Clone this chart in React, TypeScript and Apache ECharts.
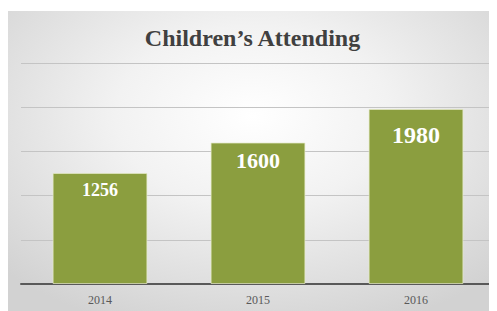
import React, { useEffect, useRef } from "react";
import * as echarts from "echarts";

const title = "Children’s Attending";
const categories = ["2014", "2015", "2016"];
const values = [1256, 1600, 1980];
const labelSizes = [18, 22, 24];
const labelDistances = [8, 7, 14];

export default function App() {
  const ref = useRef<HTMLDivElement>(null);
  useEffect(() => {
    if (!ref.current) return;
    const chart = echarts.init(ref.current, undefined, { renderer: "svg" });
    chart.setOption({
      animation: false,
      backgroundColor: "transparent",
      title: {
        text: title,
        left: "center",
        top: 10,
        textStyle: {
          fontFamily: "'Liberation Serif', serif",
          fontWeight: "bold",
          fontSize: 24,
          color: "#404040",
        },
      },
      grid: { left: 13, right: 2, top: 52, bottom: 27 },
      xAxis: {
        type: "category",
        data: categories,
        axisLine: { lineStyle: { color: "#595959", width: 2 } },
        axisTick: { show: false },
        axisLabel: {
          color: "#595959",
          fontFamily: "'Liberation Serif', serif",
          fontSize: 12,
          margin: 10,
        },
      },
      yAxis: {
        type: "value",
        min: 0,
        max: 2500,
        interval: 500,
        axisLabel: { show: false },
        axisLine: { show: false },
        axisTick: { show: false },
        splitLine: { lineStyle: { color: "#c4c4c4", width: 1 } },
      },
      series: [
        {
          type: "bar",
          barCategoryGap: "40%",
          data: values.map((v, i) => ({
            value: v,
            label: { fontSize: labelSizes[i], distance: labelDistances[i] },
          })),
          itemStyle: {
            color: "#8b9e3f",
            borderColor: "rgba(230,235,200,0.7)",
            borderWidth: 1,
          },
          label: {
            show: true,
            position: "insideTop",
            color: "#ffffff",
            fontFamily: "'Liberation Serif', serif",
            fontWeight: "bold",
          },
        },
      ],
    });
    return () => chart.dispose();
  }, []);
  return (
    <div
      ref={ref}
      style={{
        width: 489,
        height: 300,
        marginTop: 3,
        background:
          "radial-gradient(ellipse 70% 75% at 50% 35%, #ffffff 0%, #f2f2f2 40%, #d2d2d2 100%)",
      }}
    />
  );
}
